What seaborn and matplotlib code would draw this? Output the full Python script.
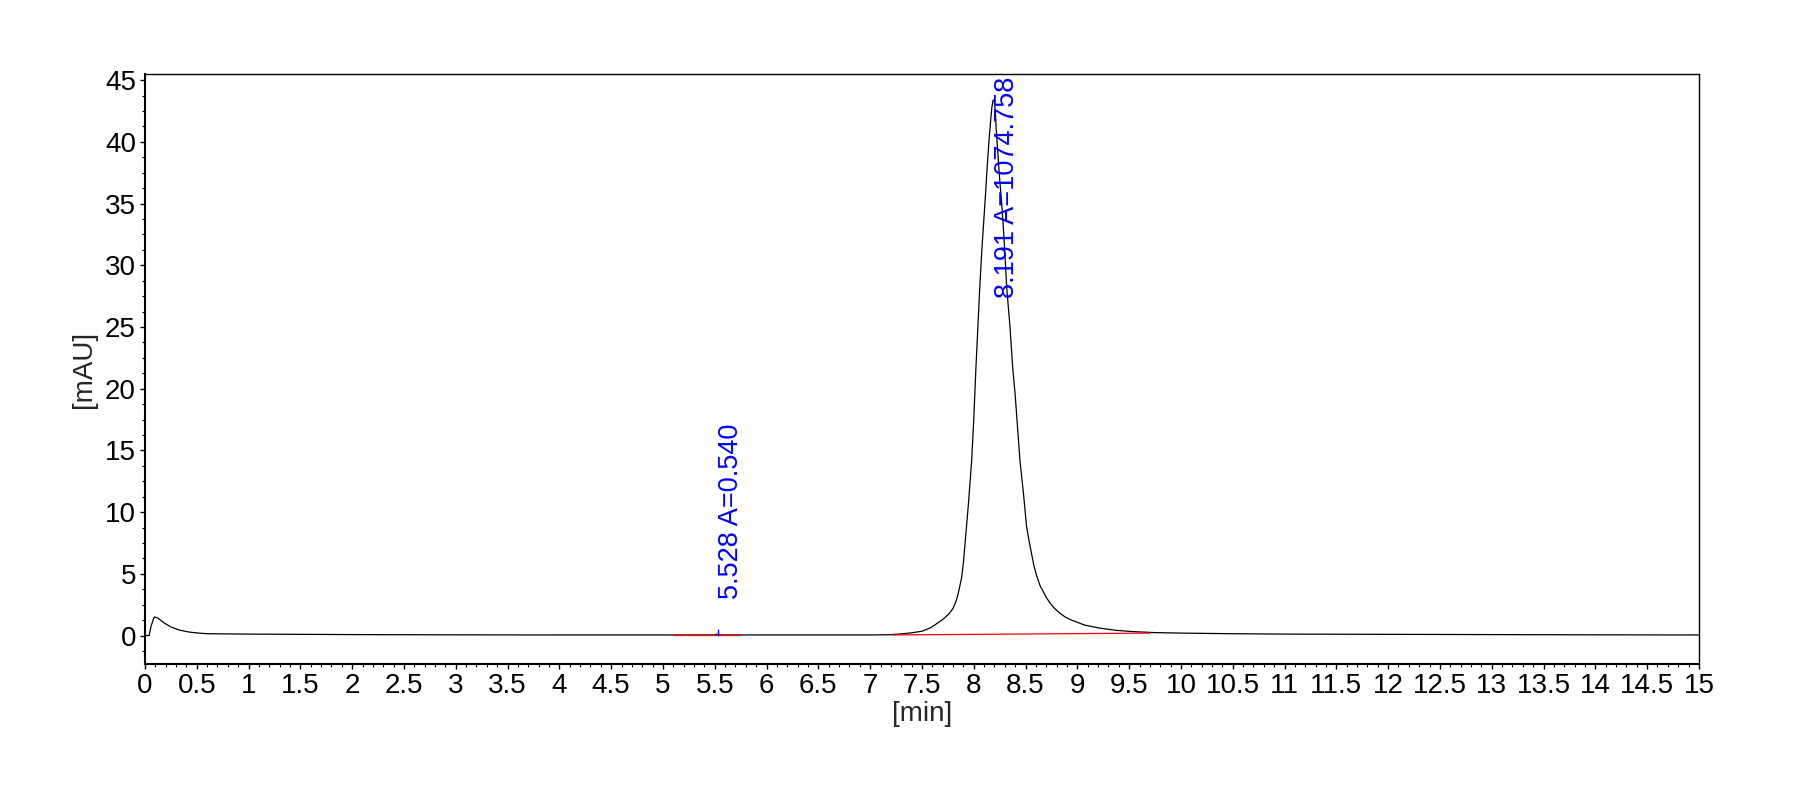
import numpy as np
import pandas as pd
import matplotlib
matplotlib.use('Agg')
import matplotlib.pyplot as plt
from matplotlib.ticker import MultipleLocator, FuncFormatter
import seaborn as sns

# trace (time in min, signal in mAU)
tiempo = [0.00, 0.04, 0.06, 0.09, 0.12, 0.18, 0.25, 0.33, 0.43, 0.52, 0.60,
          1.0, 2.0, 3.0, 4.0, 5.0, 5.50, 5.528, 5.56, 6.0, 7.0, 7.20,
          7.38, 7.50, 7.58, 7.64, 7.70, 7.76, 7.80, 7.83, 7.85, 7.883, 7.90,
          7.93, 7.95, 7.98, 8.00, 8.02, 8.04, 8.06, 8.08, 8.108, 8.13,
          8.15, 8.165, 8.175, 8.185, 8.19, 8.198, 8.207, 8.22, 8.235,
          8.25, 8.27, 8.29, 8.32, 8.35, 8.375, 8.40, 8.446, 8.48, 8.51,
          8.54, 8.58, 8.607, 8.64, 8.70, 8.735, 8.78, 8.83, 8.88, 8.93,
          9.07, 9.22, 9.38, 9.54, 9.75, 10.0, 10.5, 11.0, 12.0, 13.0,
          14.0, 15.0]
sinal = [0.0, 0.0, 0.8, 1.5, 1.45, 1.05, 0.70, 0.45, 0.28, 0.20, 0.15,
         0.12, 0.08, 0.06, 0.05, 0.05, 0.05, 0.12, 0.05, 0.05, 0.05, 0.07,
         0.2, 0.35, 0.62, 0.95, 1.3, 1.75, 2.2, 2.8, 3.4, 4.7, 5.9,
         8.83, 10.8, 14.2, 17.5, 21.5, 25.0, 28.5, 31.5, 35.0, 38.0,
         40.4, 41.9, 42.8, 43.3, 43.4, 43.3, 42.6, 40.6, 38.8,
         37.0, 35.0, 32.5, 28.0, 25.0, 21.8, 19.5, 14.2, 11.5, 8.83,
         7.4, 5.7, 4.85, 4.05, 3.1, 2.65, 2.2, 1.82, 1.52, 1.3,
         0.85, 0.6, 0.42, 0.32, 0.24, 0.2, 0.15, 0.12, 0.1, 0.08,
         0.06, 0.05]

# integration baselines (red)
base_ini = [5.10, 7.22]
base_fim = [5.74, 9.70]
base_y_ini = [0.05, 0.05]
base_y_fim = [0.05, 0.2]

# peaks
tr = [5.528, 8.191]
area = ['0.540', '1074.758']

df = pd.DataFrame({'min': tiempo, 'mAU': sinal})

sns.set_theme(style='ticks')
plt.rcParams['font.family'] = ['Liberation Sans', 'DejaVu Sans']

fig = plt.figure(figsize=(18.12, 8.05), dpi=100)
ax = fig.add_axes([0.0800, 0.1752, 0.8576, 0.7329])

sns.lineplot(data=df, x='min', y='mAU', color='black', linewidth=0.9,
             estimator=None, sort=False, ax=ax)

for x0, x1, y0, y1 in zip(base_ini, base_fim, base_y_ini, base_y_fim):
    ax.plot([x0, x1], [y0, y1], color='red', linewidth=0.9)

# peak labels
ax.vlines(tr[0], 0.0, 0.5, color='blue', linewidth=0.9)
ax.text(tr[0], 3.0, f'{tr[0]:.3f} A={area[0]}', rotation=90, color='blue',
        fontsize=19.5, ha='left', va='bottom')
ax.text(tr[1], 45.3, f'{tr[1]:.3f} A={area[1]}', rotation=90, color='blue',
        fontsize=19.5, ha='left', va='top')

ax.set_xlim(0, 15)
ax.set_ylim(-2.3, 45.5)
ax.xaxis.set_major_locator(MultipleLocator(0.5))
ax.xaxis.set_minor_locator(MultipleLocator(0.1))
ax.yaxis.set_major_locator(MultipleLocator(5))
ax.yaxis.set_minor_locator(MultipleLocator(1.25))
ax.xaxis.set_major_formatter(FuncFormatter(lambda v, p: f'{v:g}'))
ax.yaxis.set_major_formatter(FuncFormatter(lambda v, p: f'{v:g}'))
ax.tick_params(which='major', direction='out', length=3.5, width=1,
               labelsize=20, pad=3, colors='black')
ax.tick_params(which='minor', direction='out', length=2, width=0.8,
               colors='black')

for lado in ['left', 'bottom']:
    ax.spines[lado].set_linewidth(1.5)
for lado in ['top', 'right']:
    ax.spines[lado].set_linewidth(1.0)
for s in ax.spines.values():
    s.set_color('black')

ax.set_xlabel('[min]', fontsize=20)
ax.set_ylabel('[mAU]', fontsize=20)
ax.xaxis.set_label_coords(0.5, -0.062)
ax.yaxis.set_label_coords(-0.031, 0.5)

plt.savefig('out.png', dpi=100)
